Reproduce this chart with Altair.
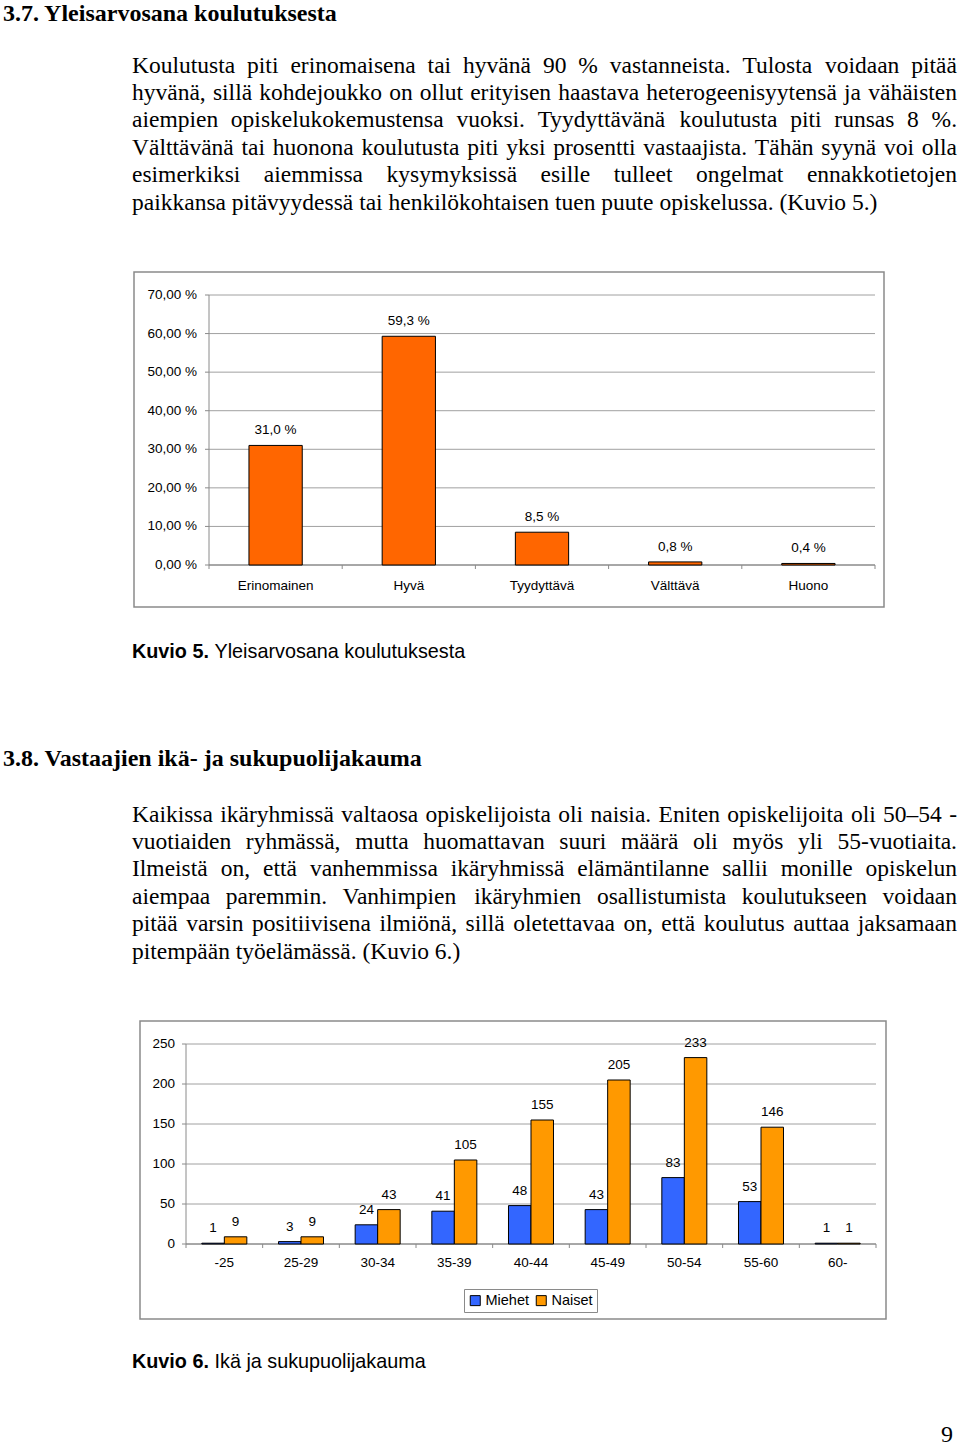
import altair as alt

# ---------------- data ----------------
CATS1 = ["Erinomainen", "Hyvä", "Tyydyttävä", "Välttävä", "Huono"]
VALS1 = [31.0, 59.3, 8.5, 0.8, 0.4]
TICKS1 = [0, 10, 20, 30, 40, 50, 60, 70]

AGES = ["-25", "25-29", "30-34", "35-39", "40-44", "45-49", "50-54", "55-60", "60-"]
MEN = [1, 3, 24, 41, 48, 43, 83, 53, 1]
WOMEN = [9, 9, 43, 105, 155, 205, 233, 146, 1]
SEXES = ["Miehet", "Naiset"]
TICKS2 = [0, 50, 100, 150, 200, 250]

HEAD1 = "3.7. Yleisarvosana koulutuksesta"
PARA1 = [
    "Koulutusta piti erinomaisena tai hyvänä 90 % vastanneista. Tulosta voidaan pitää",
    "hyvänä, sillä kohdejoukko on ollut erityisen haastava heterogeenisyytensä ja vähäisten",
    "aiempien opiskelukokemustensa vuoksi. Tyydyttävänä koulutusta piti runsas 8 %.",
    "Välttävänä tai huonona koulutusta piti yksi prosentti vastaajista. Tähän syynä voi olla",
    "esimerkiksi aiemmissa kysymyksissä esille tulleet ongelmat ennakkotietojen",
    "paikkansa pitävyydessä tai henkilökohtaisen tuen puute opiskelussa. (Kuvio 5.)",
]
CAP1_BOLD = "Kuvio 5."
CAP1 = "Yleisarvosana koulutuksesta"
HEAD2 = "3.8. Vastaajien ikä- ja sukupuolijakauma"
PARA2 = [
    "Kaikissa ikäryhmissä valtaosa opiskelijoista oli naisia. Eniten opiskelijoita oli 50–54 -",
    "vuotiaiden ryhmässä, mutta huomattavan suuri määrä oli myös yli 55-vuotiaita.",
    "Ilmeistä on, että vanhemmissa ikäryhmissä elämäntilanne sallii monille opiskelun",
    "aiempaa paremmin. Vanhimpien ikäryhmien osallistumista koulutukseen voidaan",
    "pitää varsin positiivisena ilmiönä, sillä oletettavaa on, että koulutus auttaa jaksamaan",
    "pitempään työelämässä. (Kuvio 6.)",
]
CAP2_BOLD = "Kuvio 6."
CAP2 = "Ikä ja sukupuolijakauma"
PAGE_NO = "9"

# ---------------- styling / layout ----------------
SERIF = "Liberation Serif"
SANS = "Liberation Sans"
BODY = 23.5
TEXT_L, TEXT_R = 132, 957
LINE_STEP = 27.4
CAP_SIZE = 19.8

TIMES = {' ': 250, '%': 833, '(': 333, ')': 333, ',': 250, '-': 333, '.': 250, '–': 500,
         'A': 722, 'B': 667, 'C': 667, 'D': 722, 'E': 611, 'F': 556, 'G': 722, 'H': 722,
         'I': 333, 'J': 389, 'K': 722, 'L': 611, 'M': 889, 'N': 722, 'O': 722, 'P': 556,
         'Q': 722, 'R': 667, 'S': 556, 'T': 611, 'U': 722, 'V': 722, 'W': 944, 'X': 722,
         'Y': 722, 'Z': 611, 'a': 444, 'b': 500, 'c': 444, 'd': 500, 'e': 444, 'f': 333,
         'g': 500, 'h': 500, 'i': 278, 'j': 278, 'k': 500, 'l': 278, 'm': 778, 'n': 500,
         'o': 500, 'p': 500, 'q': 500, 'r': 333, 's': 389, 't': 278, 'u': 500, 'v': 500,
         'w': 722, 'x': 500, 'y': 500, 'z': 444, 'ä': 444, 'ö': 500, 'å': 444}
ARIAL_B = {' ': 278, '.': 278, 'K': 722, 'u': 611, 'v': 556, 'i': 278, 'o': 611}


def tw(s, size, table=TIMES):
    return sum(table.get(c, 556 if table is ARIAL_B else 500) for c in s) * size / 1000.0


def justify(lines, y0):
    rows = []
    for i, line in enumerate(lines):
        words = line.split(" ")
        ws = [tw(w, BODY) for w in words]
        last = i == len(lines) - 1
        gap = tw(" ", BODY) if last else (TEXT_R - TEXT_L - sum(ws)) / (len(words) - 1)
        x = TEXT_L
        for w, wd in zip(words, ws):
            rows.append({"word": w, "px": x, "py": y0 + i * LINE_STEP})
            x += wd + gap
    return rows


def para_layer(rows):
    return alt.Chart(alt.Data(values=rows)).mark_text(
        align="left", baseline="alphabetic", font=SERIF, fontSize=BODY, color="black"
    ).encode(x=alt.X("px:Q", scale=None), y=alt.Y("py:Q", scale=None), text="word:N")


def single_text(t, x, y, font, size, weight="normal", align="left", baseline="alphabetic"):
    return alt.Chart(alt.Data(values=[{"t": t}])).mark_text(
        align=align, baseline=baseline, font=font, fontSize=size, fontWeight=weight, color="black"
    ).encode(x=alt.value(x), y=alt.value(y), text="t:N")


def frame(x0, y0, x1, y1):
    return alt.Chart(alt.Data(values=[{}])).mark_rect(
        fill="white", stroke="#8a8a8a", strokeWidth=1.5
    ).encode(x=alt.value(x0), x2=alt.value(x1), y=alt.value(y0), y2=alt.value(y1))


def hrule(x0, x1, y, color="#8a8a8a"):
    return alt.Chart(alt.Data(values=[{}])).mark_rule(color=color, strokeWidth=1).encode(
        x=alt.value(x0), x2=alt.value(x1), y=alt.value(y))


def vrule(x, y0, y1, color="#8a8a8a"):
    return alt.Chart(alt.Data(values=[{}])).mark_rule(color=color, strokeWidth=1).encode(
        x=alt.value(x), y=alt.value(y0), y2=alt.value(y1))


layers = []

# ---------------- text section 1 ----------------
layers.append(single_text(HEAD1, 3, 21, SERIF, 24, "bold"))
layers.append(para_layer(justify(PARA1, 72.5)))

# ---------------- chart 1 ----------------
C1_L, C1_R, C1_TOP, C1_BOT = 209, 875, 295, 565
d1 = [{"cat": c, "val": v, "lab": f"{v:.1f}".replace(".", ",") + " %"} for c, v in zip(CATS1, VALS1)]
t1 = [{"v": t, "lab": f"{t:.2f}".replace(".", ",") + " %"} for t in TICKS1]
x1 = alt.X("cat:N", axis=None, sort=CATS1,
           scale=alt.Scale(domain=CATS1, range=[C1_L, C1_R], paddingInner=0.6, paddingOuter=0.3))
y1v = alt.Y("val:Q", axis=None, scale=alt.Scale(domain=[0, 70], range=[C1_BOT, C1_TOP], nice=False))
y1t = alt.Y("v:Q", axis=None, scale=alt.Scale(domain=[0, 70], range=[C1_BOT, C1_TOP], nice=False))

layers.append(frame(134, 272, 884, 607))
layers.append(alt.Chart(alt.Data(values=t1)).mark_rule(color="#a0a0a0", strokeWidth=1).encode(
    y=y1t, x=alt.value(C1_L), x2=alt.value(C1_R)))
layers.append(alt.Chart(alt.Data(values=t1)).mark_rule(color="#8a8a8a", strokeWidth=1).encode(
    y=y1t, x=alt.value(C1_L - 4), x2=alt.value(C1_L)))
layers.append(alt.Chart(alt.Data(values=t1)).mark_text(
    align="right", baseline="middle", font=SANS, fontSize=13.5, color="black").encode(
    y=y1t, x=alt.value(197), text="lab:N"))
layers.append(vrule(C1_L, C1_TOP, C1_BOT))
layers.append(hrule(C1_L, C1_R, C1_BOT, "#808080"))
layers.append(alt.Chart(alt.Data(values=[{"i": i} for i in range(len(CATS1) + 1)])).mark_rule(
    color="#8a8a8a", strokeWidth=1).encode(
    x=alt.X("i:Q", axis=None, scale=alt.Scale(domain=[0, len(CATS1)], range=[C1_L, C1_R], nice=False)),
    y=alt.value(C1_BOT), y2=alt.value(C1_BOT + 4)))
layers.append(alt.Chart(alt.Data(values=d1)).mark_bar(
    color="#FF6600", stroke="black", strokeWidth=1).encode(x=x1, y=y1v))
layers.append(alt.Chart(alt.Data(values=d1)).mark_text(
    baseline="middle", font=SANS, fontSize=13.5, color="black", dy=-15).encode(
    x=x1, y=y1v, text="lab:N"))
layers.append(alt.Chart(alt.Data(values=d1)).mark_text(
    baseline="middle", font=SANS, fontSize=13.5, color="black").encode(
    x=x1, y=alt.value(585.5), text="cat:N"))

capx = 132 + tw(CAP1_BOLD + " ", CAP_SIZE, ARIAL_B)
layers.append(single_text(CAP1_BOLD, 132, 658, SANS, CAP_SIZE, "bold"))
layers.append(single_text(CAP1, capx, 658, SANS, CAP_SIZE))

# ---------------- text section 2 ----------------
layers.append(single_text(HEAD2, 3, 766, SERIF, 24, "bold"))
layers.append(para_layer(justify(PARA2, 821.5)))

# ---------------- chart 2 ----------------
C2_L, C2_R, C2_TOP, C2_BOT = 186, 876, 1044, 1244
d2 = []
for a, m, w in zip(AGES, MEN, WOMEN):
    d2.append({"age": a, "sex": SEXES[0], "n": m})
    d2.append({"age": a, "sex": SEXES[1], "n": w})
t2 = [{"v": t, "lab": str(t)} for t in TICKS2]
x2 = alt.X("age:N", axis=None, sort=AGES,
           scale=alt.Scale(domain=AGES, range=[C2_L, C2_R], paddingInner=0.413, paddingOuter=0.2065))
xo2 = alt.XOffset("sex:N", sort=SEXES,
                  scale=alt.Scale(domain=SEXES, range=[0, 45], paddingInner=0, paddingOuter=0))
y2v = alt.Y("n:Q", axis=None, scale=alt.Scale(domain=[0, 250], range=[C2_BOT, C2_TOP], nice=False))
y2t = alt.Y("v:Q", axis=None, scale=alt.Scale(domain=[0, 250], range=[C2_BOT, C2_TOP], nice=False))

layers.append(frame(140, 1021, 886, 1319))
layers.append(alt.Chart(alt.Data(values=t2)).mark_rule(color="#a0a0a0", strokeWidth=1).encode(
    y=y2t, x=alt.value(C2_L), x2=alt.value(C2_R)))
layers.append(alt.Chart(alt.Data(values=t2)).mark_rule(color="#8a8a8a", strokeWidth=1).encode(
    y=y2t, x=alt.value(C2_L - 4), x2=alt.value(C2_L)))
layers.append(alt.Chart(alt.Data(values=t2)).mark_text(
    align="right", baseline="middle", font=SANS, fontSize=13.5, color="black").encode(
    y=y2t, x=alt.value(175), text="lab:N"))
layers.append(vrule(C2_L, C2_TOP, C2_BOT))
layers.append(hrule(C2_L, C2_R, C2_BOT, "#808080"))
layers.append(alt.Chart(alt.Data(values=[{"i": i} for i in range(len(AGES) + 1)])).mark_rule(
    color="#8a8a8a", strokeWidth=1).encode(
    x=alt.X("i:Q", axis=None, scale=alt.Scale(domain=[0, len(AGES)], range=[C2_L, C2_R], nice=False)),
    y=alt.value(C2_BOT), y2=alt.value(C2_BOT + 4)))
layers.append(alt.Chart(alt.Data(values=d2)).mark_bar(stroke="black", strokeWidth=1).encode(
    x=x2, xOffset=xo2, y=y2v,
    color=alt.Color("sex:N", sort=SEXES,
                    scale=alt.Scale(domain=SEXES, range=["#3366FF", "#FF9900"]),
                    legend=alt.Legend(title=None, orient="none", legendX=464, legendY=1289,
                                      direction="horizontal", symbolType="square", symbolSize=100,
                                      symbolStrokeColor="black", symbolStrokeWidth=1,
                                      symbolOpacity=1,
                                      labelFont=SANS, labelFontSize=14.5, labelColor="black",
                                      labelOffset=3, columnPadding=4,
                                      strokeColor="#8a8a8a", fillColor="white", padding=4))))
layers.append(alt.Chart(alt.Data(values=d2)).mark_text(
    baseline="middle", font=SANS, fontSize=13.5, color="black", dy=-15).encode(
    x=x2, xOffset=xo2, y=y2v, text="n:Q"))
layers.append(alt.Chart(alt.Data(values=[{"age": a} for a in AGES])).mark_text(
    baseline="middle", font=SANS, fontSize=13.5, color="black").encode(
    x=x2, y=alt.value(1262.5), text="age:N"))

layers.append(single_text(CAP2_BOLD, 132, 1368, SANS, CAP_SIZE, "bold"))
layers.append(single_text(CAP2, capx, 1368, SANS, CAP_SIZE))

layers.append(single_text(PAGE_NO, 941, 1442, SERIF, 24))

chart = alt.layer(*layers).resolve_scale(
    x="independent", y="independent"
).properties(
    width=960, height=1451, padding=0, autosize=alt.AutoSizeParams(type="none"),
    background="white"
).configure_view(stroke=None)

chart.save("out.html", embed_options={"renderer": "svg", "actions": False})
